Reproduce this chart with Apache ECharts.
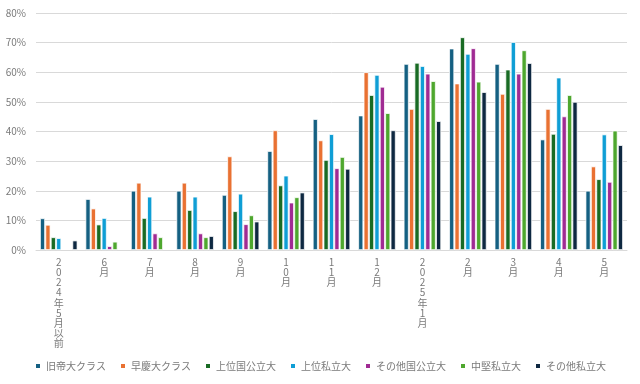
<!DOCTYPE html>
<html>
<head>
<meta charset="utf-8">
<script src="https://cdn.jsdelivr.net/npm/echarts@6/dist/echarts.min.js"></script>
<style>
html,body{margin:0;padding:0;background:#fff;}
#c{width:640px;height:384px;}
</style>
</head>
<body>
<div id="c"></div>
<script>
const categories = ['2024年5月以前','6月','7月','8月','9月','10月','11月','12月','2025年1月','2月','3月','4月','5月'];
const seriesNames = ['旧帝大クラス','早慶大クラス','上位国公立大','上位私立大','その他国公立大','中堅私立大','その他私立大'];
const kyuteidai   = [10.7, 17.2, 20.0, 20.0, 18.6, 33.4, 44.2, 45.4, 62.8, 68.0, 62.8, 37.3, 20.0];
const soukei      = [8.5, 14.0, 22.7, 22.7, 31.6, 40.4, 37.0, 60.0, 47.6, 56.2, 52.7, 47.6, 28.2];
const jouiKoku    = [4.3, 8.6, 10.8, 13.5, 13.1, 21.8, 30.4, 52.3, 63.2, 71.8, 60.9, 39.2, 23.9];
const jouiShiritsu= [4.0, 10.8, 18.0, 18.0, 19.0, 25.1, 39.1, 59.1, 62.1, 66.2, 70.2, 58.2, 39.0];
const sonotaKoku  = [null, 1.3, 5.6, 5.6, 8.7, 16.0, 27.6, 55.1, 59.5, 68.1, 59.5, 45.1, 23.0];
const chuken      = [null, 2.8, 4.3, 4.3, 11.7, 17.8, 31.4, 46.2, 57.0, 56.8, 67.4, 52.3, 40.3];
const sonotaShi   = [3.2, null, null, 4.7, 9.6, 19.4, 27.4, 40.4, 43.5, 53.3, 63.1, 50.0, 35.4];
const yTicks = [0, 10, 20, 30, 40, 50, 60, 70, 80];

const colors = ['#156082','#E97132','#196B24','#0F9ED5','#A02B93','#4EA72E','#0E2841'];
const dataSets = [kyuteidai, soukei, jouiKoku, jouiShiritsu, sonotaKoku, chuken, sonotaShi];
const font = '"Noto Sans CJK JP", "Noto Sans", sans-serif';
const textColor = '#7a7a7a';

const chart = echarts.init(document.getElementById('c'), null, {renderer:'canvas'});
chart.setOption({
  animation: false,
  backgroundColor: '#ffffff',
  color: colors,
  textStyle: {fontFamily: font},
  grid: {left: 36, right: 13, top: 13, bottom: 134, containLabel: false},
  legend: {
    bottom: 8,
    left: 'center',
    itemWidth: 6,
    itemHeight: 6,
    itemGap: 13,
    icon: 'rect',
    textStyle: {color: textColor, fontSize: 10, fontFamily: font},
    data: seriesNames
  },
  xAxis: {
    type: 'category',
    data: categories,
    axisLine: {show: true, lineStyle: {color: '#D9D9D9', width: 1}},
    axisTick: {show: false},
    axisLabel: {
      interval: 0,
      margin: 7,
      color: textColor,
      fontSize: 10,
      lineHeight: 10.2,
      fontFamily: font,
      formatter: v => Array.from(v).join('\n')
    }
  },
  yAxis: {
    type: 'value',
    min: yTicks[0],
    max: yTicks[yTicks.length-1],
    interval: yTicks[1]-yTicks[0],
    axisLine: {show: false},
    axisTick: {show: false},
    splitLine: {lineStyle: {color: '#D9D9D9', width: 1}},
    axisLabel: {color: textColor, fontSize: 10, margin: 10, fontFamily: font, formatter: '{value}%'}
  },
  series: seriesNames.map((n, i) => ({
    name: n,
    type: 'bar',
    data: dataSets[i],
    barGap: '8%',
    barCategoryGap: '17.7%',
    itemStyle: {color: colors[i], borderColor: '#ffffff', borderWidth: 0.75}
  }))
});
</script>
</body>
</html>
